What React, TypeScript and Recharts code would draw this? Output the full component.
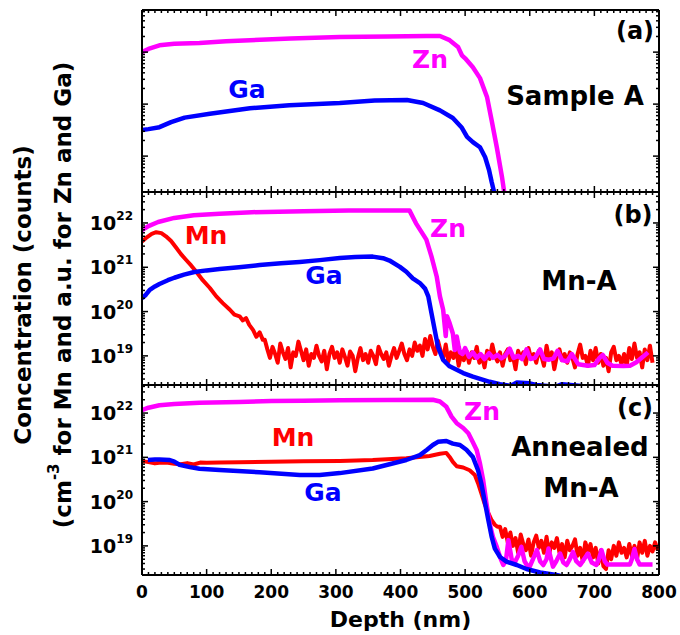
import React from 'react';
import { LineChart, Line, XAxis, YAxis, ReferenceLine } from 'recharts';

type Pair = [number, number]; // [depth in nm, concentration]

// ---------- (a) Sample A, arbitrary units ----------
const aZn: Pair[] = [
  [0, 1000], [10, 1150], [27, 1350], [50, 1450], [89, 1500], [130, 1620], [167, 1700],
  [230, 1820], [306, 1950], [380, 2000], [440, 2040], [461, 2040], [476, 1700], [489, 1260],
  [495, 870], [500, 760], [512, 510], [523, 316], [534, 135], [541, 49], [549, 14.8],
  [557, 4.0], [562, 1.5],
];
const aGa: Pair[] = [
  [0, 31.6], [10, 33], [27, 36], [45, 45], [66, 55], [105, 65], [167, 83], [228, 95],
  [306, 105], [360, 117], [410, 120], [435, 105], [461, 76], [481, 54], [495, 35],
  [503, 23.4], [512, 18.6], [523, 14.8], [531, 9.5], [537, 5.4], [541, 3.2], [545, 2.0],
  [550, 1.0],
];

// ---------- (b) Mn-A ----------
const bMn: Pair[] = [
  [0, 3.8e21], [8, 4.8e21], [15, 5.7e21], [22, 6.2e21], [30, 5.9e21], [37, 5.0e21],
  [45, 3.9e21], [53, 2.75e21], [60, 2.0e21], [68, 1.48e21], [76, 1.1e21], [84, 7.9e20],
  [94, 5.1e20], [105, 3.4e20], [115, 2.2e20], [125, 1.55e20], [136, 1.1e20], [143, 8.5e19],
  [151, 7.8e19], [156, 6.3e19], [161, 7.1e19], [166, 5.0e19], [172, 3.8e19], [177, 2.7e19],
  [182, 3.4e19], [187, 2.3e19],
  [190, 2.3e19], [194, 1.4e19], [198, 9e18], [202, 1.6e19], [206, 1.1e19], [210, 7e18],
  [214, 1.9e19], [218, 1.2e19], [222, 8.5e18], [226, 1.5e19],
  [230, 5.5e18], [234, 1.2e19], [238, 1.0e19], [242, 2.1e19], [246, 1.3e19], [250, 8e18],
  [254, 1.4e19], [258, 6e18], [262, 1.1e19], [266, 9e18],
  [270, 1.7e19], [274, 1.0e19], [278, 7.5e18], [282, 1.3e19], [286, 5e18], [290, 1.1e19],
  [294, 1.6e19], [298, 9e18], [302, 1.2e19], [306, 7e18],
  [310, 1.4e19], [314, 9.5e18], [318, 6e18], [322, 1.25e19], [326, 1.0e19], [330, 4.5e18],
  [334, 9e18], [338, 1.5e19], [342, 8e18], [346, 1.1e19],
  [350, 7e18], [354, 1.3e19], [358, 1.0e19], [362, 6.5e18], [366, 1.6e19], [370, 1.1e19],
  [374, 8.5e18], [378, 1.2e19], [382, 6e18], [386, 1.0e19],
  [390, 1.5e19], [394, 9e18], [398, 1.3e19], [402, 1.9e19], [406, 1.1e19], [410, 8e18],
  [414, 1.4e19], [418, 1.0e19], [422, 2.0e19], [426, 1.3e19],
  [430, 1.7e19], [434, 1.0e19], [438, 2.4e19], [442, 1.4e19], [446, 2.8e19], [450, 1.6e19],
  [454, 1.1e19], [458, 2.2e19], [462, 1.3e19], [466, 9e18],
  [470, 1.8e19], [474, 7.5e18], [478, 1.2e19], [482, 9e18], [486, 1.5e19], [490, 6e18],
  [494, 1.1e19], [498, 8e18], [502, 1.3e19], [506, 7e18],
  [510, 1.2e19], [514, 9e18], [518, 1.6e19], [522, 7e18], [526, 1.0e19], [530, 5.5e18],
  [534, 1.3e19], [538, 8.5e18], [542, 1.8e19], [546, 1.0e19],
  [550, 7.5e18], [554, 1.2e19], [558, 6e18], [562, 1.1e19], [566, 1.4e19], [570, 8e18],
  [574, 1.0e19], [578, 5e18], [582, 1.3e19], [586, 9e18],
  [590, 1.2e19], [594, 6.5e18], [598, 1.5e19], [602, 9e18], [606, 1.1e19], [610, 7e18],
  [614, 1.3e19], [618, 1.0e19], [622, 6e18], [626, 1.7e19],
  [630, 8.5e18], [634, 1.2e19], [638, 5e18], [642, 1.0e19], [646, 1.4e19], [650, 8e18],
  [654, 1.1e19], [658, 7e18], [662, 1.2e19], [666, 9e18],
  [670, 5.5e18], [674, 1.1e19], [678, 1.8e19], [682, 9e18], [686, 1.0e19], [690, 6e18],
  [694, 1.3e19], [698, 8e18], [702, 1.5e19], [706, 7e18],
  [710, 1.1e19], [714, 6e18], [718, 9e18], [722, 4.5e18], [726, 1.2e19], [730, 1.6e19],
  [734, 8e18], [738, 1.0e19], [742, 6.5e18], [746, 1.1e19],
  [750, 6e18], [754, 1.5e19], [758, 8.5e18], [762, 1.9e19], [766, 9e18], [770, 1.2e19],
  [774, 5.5e18], [778, 1.4e19], [782, 8e18], [786, 1.7e19],
  [790, 7e18],
];
const bZn: Pair[] = [
  [0, 6.9e21], [10, 8.5e21], [25, 1.05e22], [50, 1.3e22], [80, 1.5e22], [120, 1.62e22],
  [170, 1.75e22], [250, 1.85e22], [320, 1.9e22], [370, 1.92e22], [414, 1.9e22], [424, 9.8e21],
  [440, 4.2e21], [448, 1.74e21], [456, 6.2e20], [461, 2.2e20], [466, 1.1e20], [470, 2.8e19],
  [472, 7.8e19], [476, 5.5e19], [481, 3.2e19], [484, 1.35e19], [487, 2.75e19], [490, 1.6e19],
  [492, 1.2e19], [496, 1.1e19], [500, 1.5e19], [506, 9.5e18], [512, 1.2e19], [518, 9e18],
  [524, 1.1e19], [530, 8.5e18], [537, 1.15e19], [543, 9e18], [550, 1.05e19], [556, 8.8e18],
  [562, 1.0e19], [569, 1.45e19], [575, 9e18], [582, 1.0e19], [588, 8.5e18], [595, 1.4e19],
  [601, 8.5e18], [608, 9e18], [616, 1.4e19], [622, 8.5e18], [630, 8.2e18], [637, 8.8e18],
  [643, 1.3e19], [650, 8e18], [658, 7.5e18], [665, 1.1e19], [675, 6.5e18], [690, 6.0e18],
  [700, 6.2e18], [708, 9e18], [713, 1.05e19], [720, 7e18], [728, 6.0e18], [745, 5.9e18],
  [755, 6.0e18], [765, 7.2e18], [775, 9.5e18], [783, 1.2e19],
];
const bGa: Pair[] = [
  [0, 2.0e20], [6, 2.4e20], [12, 3.1e20], [20, 3.7e20], [27, 4.2e20], [40, 5.1e20],
  [50, 5.8e20], [65, 6.8e20], [81, 7.8e20], [100, 8.5e20], [120, 9.1e20], [150, 1.0e21],
  [182, 1.12e21], [215, 1.23e21], [244, 1.32e21], [275, 1.45e21], [306, 1.62e21],
  [330, 1.7e21], [357, 1.74e21], [373, 1.6e21], [383, 1.42e21], [399, 1.02e21],
  [409, 7.9e20], [419, 5.6e20], [430, 4.4e20], [438, 3.3e20], [443, 2.2e20], [448, 9.1e19],
  [453, 3.8e19], [458, 1.6e19], [466, 8.1e18], [476, 5.8e18], [497, 4.1e18], [512, 3.4e18],
  [538, 2.6e18], [554, 2.3e18], [570, 2.1e18], [580, 2.5e18], [600, 2.4e18], [610, 2.2e18],
  [640, 2.0e18], [650, 2.3e18], [680, 2.1e18], [700, 1.8e18],
];

// ---------- (c) Annealed Mn-A ----------
const cMn: Pair[] = [
  [0, 8.3e20], [10, 7.8e20], [20, 7.3e20], [30, 7.6e20], [40, 7.5e20], [50, 7.2e20],
  [60, 7.0e20], [70, 7.4e20], [80, 6.9e20], [90, 7.6e20], [100, 7.5e20], [120, 7.6e20],
  [150, 7.7e20], [200, 7.9e20], [250, 8.2e20], [306, 8.3e20], [357, 8.7e20], [409, 9.5e20],
  [445, 1.07e21], [461, 1.2e21], [471, 1.26e21], [476, 1.02e21], [481, 7.9e20], [487, 6.3e20],
  [497, 5.9e20], [507, 5.1e20], [515, 4.0e20], [520, 2.6e20], [525, 1.55e20], [530, 9.1e19],
  [536, 5.5e19], [541, 3.8e19], [546, 3.0e19], [550, 2.7e19],
  [554, 2.7e19], [558, 1.6e19], [562, 2.4e19], [566, 1.2e19], [570, 2.0e19], [574, 1.0e19],
  [578, 1.5e19], [582, 7e18], [586, 1.8e19], [590, 1.1e19],
  [594, 8e18], [598, 1.4e19], [602, 6e18], [606, 1.2e19], [610, 1.7e19], [614, 9e18],
  [618, 1.3e19], [622, 7e18], [626, 1.6e19], [630, 6.5e18],
  [634, 1.2e19], [638, 9e18], [642, 1.5e19], [646, 7e18], [650, 1.1e19], [654, 5.5e18],
  [658, 1.3e19], [662, 8e18], [666, 1.0e19], [670, 1.4e19],
  [674, 6e18], [678, 9e18], [682, 4.5e18], [686, 1.2e19], [690, 7.5e18], [694, 1.1e19],
  [698, 5.5e18], [702, 9e18], [706, 4e18], [710, 8e18],
  [714, 3.5e18], [718, 3e18], [722, 8e18], [726, 5e18], [730, 1.0e19], [734, 6e18],
  [738, 1.2e19], [742, 7e18], [746, 9e18], [750, 5.5e18],
  [754, 1.1e19], [758, 6e18], [762, 1.0e19], [766, 5e18], [770, 1.2e19], [774, 7e18],
  [778, 1.3e19], [782, 6e18], [786, 1.0e19], [790, 7.5e18],
  [794, 1.2e19], [798, 8e18],
];
const cZn: Pair[] = [
  [0, 1.17e22], [10, 1.32e22], [27, 1.5e22], [50, 1.6e22], [89, 1.7e22], [150, 1.78e22],
  [200, 1.86e22], [250, 1.9e22], [306, 1.95e22], [380, 1.98e22], [450, 2.0e22],
  [461, 1.82e22], [471, 1.38e22], [479, 8.3e21], [487, 5.9e21], [497, 4.6e21], [505, 3.5e21],
  [512, 2.2e21], [518, 1.45e21], [523, 7.2e20], [528, 3.0e20], [533, 9.1e19], [538, 3.2e19],
  [543, 1.6e19], [549, 9.5e18], [554, 5.6e18], [559, 3.7e18], [563, 4.5e18], [567, 1.35e19],
  [572, 5e18], [576, 4.0e18], [582, 6e18], [587, 9.5e18], [592, 4.5e18], [596, 3.6e18],
  [600, 3.4e18], [605, 5e18], [611, 8e18], [616, 4.5e18], [621, 3.7e18], [626, 5e18],
  [629, 8.7e18], [633, 5e18], [636, 3.4e18], [641, 4.5e18], [647, 6.7e18], [652, 4.2e18],
  [657, 3.7e18], [662, 5e18], [667, 7.3e18], [672, 4.5e18], [678, 3.7e18], [684, 5e18],
  [690, 6.7e18], [696, 4.2e18], [703, 3.7e18], [707, 5e18], [711, 8e18], [716, 4.5e18],
  [720, 3.8e18], [740, 3.8e18], [755, 3.8e18], [758, 5e18], [762, 8.5e18], [766, 5e18],
  [770, 3.8e18], [790, 3.8e18],
];
const cGa: Pair[] = [
  [9, 8.7e20], [20, 8.9e20], [27, 8.9e20], [43, 8.7e20], [50, 8.0e20], [58, 6.8e20],
  [74, 6.0e20], [89, 5.5e20], [120, 5.2e20], [182, 4.6e20], [244, 4.0e20], [275, 4.0e20],
  [306, 4.4e20], [357, 5.6e20], [409, 8.7e20], [430, 1.12e21], [441, 1.48e21], [450, 1.9e21],
  [458, 2.24e21], [471, 2.34e21], [481, 2.04e21], [492, 1.9e21], [502, 1.48e21],
  [512, 1.02e21], [520, 5.1e20], [525, 2.6e20], [530, 1.07e20], [536, 3.8e19], [541, 1.62e19],
  [546, 8.7e18], [554, 5.6e18], [564, 4.4e18], [580, 3.7e18], [595, 3.0e18], [616, 2.5e18],
  [641, 2.2e18], [660, 1.9e18],
];

// ---------- axes ----------
const depthDomain: [number, number] = [0, 800];
const depthMajorTicks = [0, 100, 200, 300, 400, 500, 600, 700, 800];
const depthMinorTicks: number[] = [];
for (let d = 10; d < 800; d += 10) if (d % 100 !== 0) depthMinorTicks.push(d);

const auDomain: [number, number] = [2.04, 6460];
const auMajorTicks = [10, 100, 1000];
const concDomainB: [number, number] = [2.2e18, 5.0e22];
const concDomainC: [number, number] = [2.2e18, 4.3e22];
const concMajorTicks = [1e19, 1e20, 1e21, 1e22];
const concTickExponents = ['19', '20', '21', '22'];

const logMinorTicks = (lo: number, hi: number): number[] => {
  const out: number[] = [];
  for (let e = Math.floor(Math.log10(lo)); e <= Math.ceil(Math.log10(hi)); e++) {
    for (let m = 2; m <= 9; m++) {
      const t = m * Math.pow(10, e);
      if (t > lo && t < hi) out.push(t);
    }
  }
  return out;
};

const ZN = '#ff00ff';
const GA = '#0000ff';
const MN = '#ff0000';
const FONT = '"DejaVu Sans", Verdana, sans-serif';

// plot frame inside every panel's own svg
const PLOT_LEFT = 142;
const PLOT_RIGHT = 659;
const PAD_TOP = 10;
const MAJOR_LEN = 6;
const MINOR_LEN = 3;

const toRows = (pts: Pair[]) => pts.map(([d, v]) => ({ d, v }));

type Series = { name: string; pts: Pair[]; color: string; width: number };

type PanelProps = {
  plotTop: number;
  plotHeight: number;
  yDomain: [number, number];
  yMajor: number[];
  labeledY: boolean;
  depthLabels: boolean;
  series: Series[];
};

function Panel({ plotTop, plotHeight, yDomain, yMajor, labeledY, depthLabels, series }: PanelProps) {
  const yTicks = [...yMajor, ...logMinorTicks(yDomain[0], yDomain[1])];
  const xTicks = [...depthMajorTicks, ...depthMinorTicks];
  const plotBottom = PAD_TOP + plotHeight;
  const xAxisHeight = depthLabels ? 57 : 1;
  const bottomMargin = depthLabels ? 3 : 9;
  const height = PAD_TOP + plotHeight + xAxisHeight + bottomMargin;
  const frame = { stroke: '#000', strokeWidth: 2 };

  // depth ticks: inward on the bottom and top edges, numbers below the lowest panel
  const depthTick = (p: any) => {
    const v = p.payload.value;
    const x = p.x;
    const major = depthMajorTicks.includes(v);
    const len = major ? MAJOR_LEN : MINOR_LEN;
    return (
      <g>
        <line x1={x} x2={x} y1={plotBottom} y2={plotBottom - len} stroke="#000" strokeWidth={1.5} />
        <line x1={x} x2={x} y1={PAD_TOP} y2={PAD_TOP + len} stroke="#000" strokeWidth={1.5} />
        {depthLabels && major && (
          <text x={x} y={plotBottom + 23} textAnchor="middle" fill="#000" fontFamily={FONT}
            fontWeight="bold" fontSize={17}>{v}</text>
        )}
      </g>
    );
  };

  // log ticks: inward on the left and right edges, powers of ten on the left
  const concTick = (p: any) => {
    const v = p.payload.value;
    const y = p.y;
    const mi = yMajor.indexOf(v);
    const len = mi >= 0 ? MAJOR_LEN : MINOR_LEN;
    return (
      <g>
        <line x1={PLOT_LEFT} x2={PLOT_LEFT + len} y1={y} y2={y} stroke="#000" strokeWidth={1.5} />
        <line x1={PLOT_RIGHT - len} x2={PLOT_RIGHT} y1={y} y2={y} stroke="#000" strokeWidth={1.5} />
        {labeledY && mi >= 0 && (
          <text x={PLOT_LEFT - 9} y={y + 7} textAnchor="end" fill="#000" fontFamily={FONT}
            fontWeight="bold" fontSize={19}>
            10<tspan dy={-10} fontSize={12}>{concTickExponents[mi]}</tspan>
          </text>
        )}
      </g>
    );
  };

  return (
    <div style={{ position: 'absolute', left: 0, top: plotTop - PAD_TOP }}>
      <LineChart
        width={680}
        height={height}
        margin={{ top: PAD_TOP, right: 680 - PLOT_RIGHT, bottom: bottomMargin, left: PLOT_LEFT - 60 }}
      >
        <XAxis xAxisId="xb" dataKey="d" type="number" orientation="bottom" height={xAxisHeight}
          domain={depthDomain} allowDataOverflow ticks={xTicks} interval={0}
          tick={depthTick} tickLine={false} tickSize={0} tickMargin={0} axisLine={frame}
          label={depthLabels ? {
            value: 'Depth (nm)', position: 'insideBottom', offset: 5, fill: '#000',
            fontSize: 22, fontWeight: 'bold', fontFamily: FONT,
          } : undefined} />
        <YAxis yAxisId="yl" type="number" scale="log" orientation="left" width={60}
          domain={yDomain} allowDataOverflow ticks={yTicks} interval={0}
          tick={concTick} tickLine={false} tickSize={0} tickMargin={0} axisLine={frame} />
        <ReferenceLine xAxisId="xb" yAxisId="yl" y={yDomain[1]} stroke="#000" strokeWidth={2} />
        <ReferenceLine xAxisId="xb" yAxisId="yl" x={depthDomain[1]} stroke="#000" strokeWidth={2} />
        {series.map((s) => (
          <Line key={s.name} name={s.name} xAxisId="xb" yAxisId="yl" data={toRows(s.pts)}
            dataKey="v" type="linear" stroke={s.color} strokeWidth={s.width}
            strokeLinejoin="round" dot={false} activeDot={false} isAnimationActive={false} />
        ))}
      </LineChart>
    </div>
  );
}

type Note = { text: string; x: number; y: number; color: string; size: number };
const notes: Note[] = [
  { text: '(a)', x: 635, y: 31, color: '#000', size: 24 },
  { text: 'Zn', x: 430, y: 59, color: ZN, size: 25 },
  { text: 'Ga', x: 247, y: 89, color: GA, size: 25 },
  { text: 'Sample A', x: 575, y: 96, color: '#000', size: 26 },
  { text: '(b)', x: 633, y: 215, color: '#000', size: 24 },
  { text: 'Mn', x: 206, y: 235, color: MN, size: 25 },
  { text: 'Zn', x: 448, y: 228, color: ZN, size: 25 },
  { text: 'Ga', x: 324, y: 275, color: GA, size: 25 },
  { text: 'Mn-A', x: 579, y: 281, color: '#000', size: 26 },
  { text: '(c)', x: 635, y: 408, color: '#000', size: 24 },
  { text: 'Zn', x: 482, y: 411, color: ZN, size: 25 },
  { text: 'Mn', x: 293, y: 437, color: MN, size: 25 },
  { text: 'Ga', x: 323, y: 492, color: GA, size: 25 },
  { text: 'Annealed', x: 580, y: 447, color: '#000', size: 26 },
  { text: 'Mn-A', x: 581, y: 488, color: '#000', size: 26 },
];

export default function App() {
  return (
    <div style={{ position: 'absolute', left: 0, top: 0, width: 680, height: 635, background: '#fff', overflow: 'hidden' }}>
      <Panel plotTop={10} plotHeight={182} yDomain={auDomain} yMajor={auMajorTicks}
        labeledY={false} depthLabels={false}
        series={[
          { name: 'Zn', pts: aZn, color: ZN, width: 4.5 },
          { name: 'Ga', pts: aGa, color: GA, width: 4.5 },
        ]} />
      <Panel plotTop={192} plotHeight={193} yDomain={concDomainB} yMajor={concMajorTicks}
        labeledY depthLabels={false}
        series={[
          { name: 'Mn', pts: bMn, color: MN, width: 4 },
          { name: 'Zn', pts: bZn, color: ZN, width: 4.5 },
          { name: 'Ga', pts: bGa, color: GA, width: 4.5 },
        ]} />
      <Panel plotTop={385} plotHeight={190} yDomain={concDomainC} yMajor={concMajorTicks}
        labeledY depthLabels
        series={[
          { name: 'Mn', pts: cMn, color: MN, width: 4 },
          { name: 'Zn', pts: cZn, color: ZN, width: 4.5 },
          { name: 'Ga', pts: cGa, color: GA, width: 4.5 },
        ]} />
      <svg width={680} height={635} style={{ position: 'absolute', left: 0, top: 0, pointerEvents: 'none' }}>
        <g fontFamily={FONT} fontWeight="bold" fill="#000">
          <text transform="translate(23,295) rotate(-90)" textAnchor="middle" dominantBaseline="central" fontSize={23}>
            Concentration (counts)
          </text>
          <text transform="translate(63,295) rotate(-90)" textAnchor="middle" dominantBaseline="central" fontSize={23}>
            (cm<tspan dy={-9} fontSize={15}>-3</tspan><tspan dy={9}> for Mn and a.u. for Zn and Ga)</tspan>
          </text>
        </g>
        <g fontFamily={FONT} fontWeight="bold">
          {notes.map((n, i) => (
            <text key={i} x={n.x} y={n.y} fill={n.color} fontSize={n.size} textAnchor="middle" dominantBaseline="central">
              {n.text}
            </text>
          ))}
        </g>
      </svg>
    </div>
  );
}
